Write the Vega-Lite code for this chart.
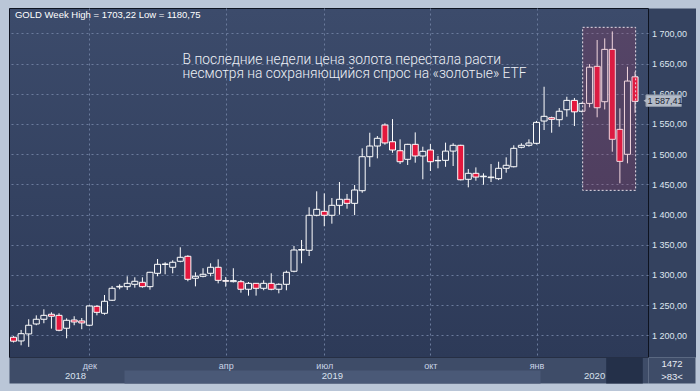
{
  "$schema": "https://vega.github.io/schema/vega-lite/v6.json",
  "width": 639,
  "height": 349,
  "autosize": {"type": "none"},
  "padding": {"left": 9, "top": 8, "right": 52, "bottom": 34},
  "background": "#bac6d7",
  "config": {
    "view": {
      "stroke": "#0e1320",
      "strokeWidth": 1,
      "fill": {"gradient": "linear", "x1": 0, "y1": 0, "x2": 0, "y2": 1, "stops": [{"offset": 0, "color": "#3c4b6b"}, {"offset": 1, "color": "#2d3a58"}]}
    },
    "axis": {"labelOverlap": false, "labelFlush": false, "labelBound": false}
  },
  "data": {"values": [
    {"i": -10, "o": 1196.7, "h": 1198.5, "l": 1188, "c": 1190.2},
    {"i": -9, "o": 1190.6, "h": 1208.8, "l": 1183.4, "c": 1202.6},
    {"i": -8, "o": 1202.2, "h": 1226.5, "l": 1180.75, "c": 1216.6},
    {"i": -7, "o": 1218.7, "h": 1233, "l": 1216.6, "c": 1226.5},
    {"i": -6, "o": 1226.5, "h": 1243, "l": 1219.9, "c": 1233},
    {"i": -5, "o": 1234.8, "h": 1238, "l": 1211, "c": 1231.5},
    {"i": -4, "o": 1233, "h": 1236.4, "l": 1206.6, "c": 1208.3},
    {"i": -3, "o": 1211.6, "h": 1228, "l": 1195, "c": 1224.8},
    {"i": -2, "o": 1225.3, "h": 1231.5, "l": 1216.6, "c": 1222},
    {"i": -1, "o": 1223.7, "h": 1228.6, "l": 1210, "c": 1220.4},
    {"i": 0, "o": 1216.6, "h": 1249.5, "l": 1215, "c": 1248.5},
    {"i": 1, "o": 1248, "h": 1249.7, "l": 1233, "c": 1238},
    {"i": 2, "o": 1236.4, "h": 1266.7, "l": 1234, "c": 1256.3},
    {"i": 3, "o": 1258, "h": 1281.6, "l": 1256.8, "c": 1277.8},
    {"i": 4, "o": 1280, "h": 1284.4, "l": 1276.2, "c": 1281},
    {"i": 5, "o": 1280.5, "h": 1297.7, "l": 1275, "c": 1286},
    {"i": 6, "o": 1284.4, "h": 1296, "l": 1278.8, "c": 1289.4},
    {"i": 7, "o": 1287.7, "h": 1296, "l": 1278.8, "c": 1280.5},
    {"i": 8, "o": 1280.5, "h": 1305, "l": 1275.5, "c": 1304.3},
    {"i": 9, "o": 1302.6, "h": 1326.3, "l": 1297.7, "c": 1317.5},
    {"i": 10, "o": 1317.2, "h": 1320.9, "l": 1301, "c": 1318},
    {"i": 11, "o": 1312.6, "h": 1324.2, "l": 1302.6, "c": 1320.9},
    {"i": 12, "o": 1322.5, "h": 1345.7, "l": 1320.9, "c": 1329.1},
    {"i": 13, "o": 1330.8, "h": 1332.5, "l": 1289.4, "c": 1292.7},
    {"i": 14, "o": 1294.4, "h": 1304.3, "l": 1281, "c": 1297.7},
    {"i": 15, "o": 1297.7, "h": 1311, "l": 1296, "c": 1301},
    {"i": 16, "o": 1302.6, "h": 1319.2, "l": 1297.7, "c": 1312.6},
    {"i": 17, "o": 1312.6, "h": 1325.8, "l": 1286, "c": 1291},
    {"i": 18, "o": 1290.5, "h": 1296.5, "l": 1280.5, "c": 1289.5},
    {"i": 19, "o": 1288.8, "h": 1311, "l": 1287.5, "c": 1290.5},
    {"i": 20, "o": 1288.7, "h": 1291.6, "l": 1270.5, "c": 1276.2},
    {"i": 21, "o": 1276.2, "h": 1288.2, "l": 1265.6, "c": 1286},
    {"i": 22, "o": 1286, "h": 1286.5, "l": 1265.6, "c": 1277.8},
    {"i": 23, "o": 1277.8, "h": 1291, "l": 1274.5, "c": 1286},
    {"i": 24, "o": 1286, "h": 1302.6, "l": 1274.5, "c": 1276.2},
    {"i": 25, "o": 1276.2, "h": 1286, "l": 1269.5, "c": 1284.4},
    {"i": 26, "o": 1284.4, "h": 1307, "l": 1274.5, "c": 1304.3},
    {"i": 27, "o": 1306, "h": 1347.8, "l": 1304.3, "c": 1341.2},
    {"i": 28, "o": 1341, "h": 1357.8, "l": 1319.2, "c": 1342},
    {"i": 29, "o": 1340.7, "h": 1412, "l": 1331.3, "c": 1398.7},
    {"i": 30, "o": 1398.7, "h": 1438.4, "l": 1397, "c": 1408.6},
    {"i": 31, "o": 1405.3, "h": 1435, "l": 1380.5, "c": 1398.7},
    {"i": 32, "o": 1398.7, "h": 1427.3, "l": 1384.8, "c": 1415.2},
    {"i": 33, "o": 1415.2, "h": 1453.8, "l": 1399.7, "c": 1425.2},
    {"i": 34, "o": 1425.2, "h": 1434, "l": 1409.6, "c": 1418.5},
    {"i": 35, "o": 1418.5, "h": 1448.8, "l": 1399, "c": 1440.6},
    {"i": 36, "o": 1439.4, "h": 1509.6, "l": 1436, "c": 1495.7},
    {"i": 37, "o": 1495.7, "h": 1535.4, "l": 1479, "c": 1513.4},
    {"i": 38, "o": 1513.4, "h": 1530, "l": 1493, "c": 1526.2},
    {"i": 39, "o": 1548.2, "h": 1551, "l": 1515.6, "c": 1518.5},
    {"i": 40, "o": 1520.5, "h": 1558, "l": 1502.3, "c": 1506.8},
    {"i": 41, "o": 1505.6, "h": 1524.5, "l": 1483.6, "c": 1487.4},
    {"i": 42, "o": 1491.4, "h": 1517, "l": 1482, "c": 1516.2},
    {"i": 43, "o": 1516.2, "h": 1536, "l": 1485.8, "c": 1496.9},
    {"i": 44, "o": 1496.9, "h": 1512.3, "l": 1458.3, "c": 1504.6},
    {"i": 45, "o": 1506.8, "h": 1516.7, "l": 1472, "c": 1487.4},
    {"i": 46, "o": 1489, "h": 1497, "l": 1476.5, "c": 1489.6},
    {"i": 47, "o": 1489.7, "h": 1519, "l": 1479, "c": 1505},
    {"i": 48, "o": 1505, "h": 1518, "l": 1480.3, "c": 1514.6},
    {"i": 49, "o": 1514.6, "h": 1515.5, "l": 1456.5, "c": 1457.5},
    {"i": 50, "o": 1458.3, "h": 1475.3, "l": 1445, "c": 1468.2},
    {"i": 51, "o": 1468.2, "h": 1478, "l": 1456, "c": 1462},
    {"i": 52, "o": 1462.5, "h": 1468.2, "l": 1449.3, "c": 1463.5},
    {"i": 53, "o": 1461, "h": 1483.6, "l": 1453.8, "c": 1462},
    {"i": 54, "o": 1459.3, "h": 1487.4, "l": 1457, "c": 1476.5},
    {"i": 55, "o": 1476.5, "h": 1494.7, "l": 1469.2, "c": 1481.5},
    {"i": 56, "o": 1479.1, "h": 1514.6, "l": 1478, "c": 1509.6},
    {"i": 57, "o": 1511.3, "h": 1518, "l": 1509.6, "c": 1514.6},
    {"i": 58, "o": 1514.6, "h": 1524.5, "l": 1512.3, "c": 1518.4},
    {"i": 59, "o": 1517.9, "h": 1555, "l": 1516, "c": 1552.6},
    {"i": 60, "o": 1554.8, "h": 1611.6, "l": 1539.9, "c": 1562.6},
    {"i": 61, "o": 1560.3, "h": 1562, "l": 1535.4, "c": 1557.6},
    {"i": 62, "o": 1557, "h": 1576.3, "l": 1545.4, "c": 1571},
    {"i": 63, "o": 1573.5, "h": 1595, "l": 1562, "c": 1589},
    {"i": 64, "o": 1589, "h": 1593, "l": 1546.5, "c": 1570},
    {"i": 65, "o": 1571, "h": 1585.5, "l": 1569, "c": 1584},
    {"i": 66, "o": 1584, "h": 1649, "l": 1577.5, "c": 1644},
    {"i": 67, "o": 1645.4, "h": 1689, "l": 1561, "c": 1576.8},
    {"i": 68, "o": 1586.8, "h": 1691.7, "l": 1574, "c": 1673.5},
    {"i": 69, "o": 1673.5, "h": 1703.22, "l": 1504, "c": 1524.5},
    {"i": 70, "o": 1541, "h": 1575.8, "l": 1451.7, "c": 1488},
    {"i": 71, "o": 1499.7, "h": 1644.7, "l": 1484.8, "c": 1621},
    {"i": 72, "o": 1628, "h": 1636.4, "l": 1568.5, "c": 1587.41}
  ]},
  "layer": [
    {
      "mark": {"type": "rule", "color": "#ffffff", "strokeWidth": 1},
      "encoding": {
        "x": {
          "field": "i", "type": "quantitative",
          "scale": {"domain": [-9.94, 73.05], "nice": false, "zero": false},
          "axis": {
            "orient": "bottom", "title": null, "values": [0, 18, 31, 45, 59],
            "offset": 13, "domain": true, "domainWidth": 26, "domainColor": "#3e4c68", "domainCap": "butt",
            "ticks": false, "labels": false, "grid": true, "gridColor": "#6b7b9c", "gridDash": [2, 3], "gridWidth": 1
          }
        },
        "y": {
          "field": "l", "type": "quantitative",
          "scale": {"domain": [1164, 1742], "nice": false, "zero": false},
          "axis": {
            "orient": "right", "title": null, "values": [1200, 1250, 1300, 1350, 1400, 1450, 1500, 1550, 1600, 1650, 1700],
            "offset": 24, "domain": true, "domainWidth": 47, "domainColor": "#34425f", "domainCap": "butt",
            "ticks": false, "labels": false, "grid": true, "gridColor": "#6b7b9c", "gridDash": [2, 3], "gridWidth": 1
          }
        },
        "y2": {"field": "h"}
      }
    },
    {
      "mark": {"type": "bar", "size": 6, "stroke": "#ffffff", "strokeWidth": 1},
      "encoding": {
        "x": {
          "field": "i", "type": "quantitative",
          "axis": {
            "orient": "bottom", "title": null, "values": [-1.89, 32.0, 66.6],
            "offset": 13, "domain": false, "grid": false, "ticks": true, "tickSize": 13, "tickCap": "butt",
            "tickWidth": 416, "tickColor": "#4a5977",
            "tickOpacity": {"condition": {"test": "datum.value > 30 && datum.value < 35", "value": 1}, "value": 0},
            "labelExpr": "datum.value < 0 ? '2018' : datum.value < 50 ? '2019' : '2020'",
            "labelFont": "Liberation Sans", "labelFontSize": 9.5, "labelColor": "#d9e1ee",
            "labelBaseline": "middle", "labelPadding": -7.3, "labelAlign": "center"
          }
        },
        "y": {
          "field": "o", "type": "quantitative",
          "axis": {
            "orient": "right", "title": null, "values": [1200, 1250, 1300, 1350, 1400, 1450, 1500, 1550, 1600, 1650, 1700],
            "offset": 0, "domain": false, "ticks": false, "grid": false,
            "labelExpr": "replace(replace(format(datum.value, ',.2f'), ',', ' '), '.', ',')",
            "labelFont": "Liberation Sans", "labelFontSize": 9, "labelColor": "#dfe6f0",
            "labelBaseline": "middle", "labelAlign": "left", "labelPadding": 3.5
          }
        },
        "y2": {"field": "c"},
        "fill": {
          "condition": {"test": "datum.c < datum.o", "value": "#e4173d"},
          "field": "c", "type": "quantitative",
          "scale": {"type": "linear", "domain": [1164, 1742], "range": ["#2d3a58", "#3c4b6b"]},
          "legend": null
        }
      }
    },
    {
      "data": {"values": [{}]},
      "mark": {"type": "rect", "fill": "#c0305c", "fillOpacity": 0.2, "stroke": "#e9e1ea", "strokeWidth": 1, "strokeDash": [2, 2]},
      "encoding": {
        "x": {
          "datum": 65.09, "type": "quantitative",
          "axis": {
            "orient": "bottom", "title": null, "values": [70.58],
            "offset": 0, "domain": false, "grid": false, "labels": false, "ticks": true, "tickSize": 26, "tickCap": "butt",
            "tickWidth": 36.6, "tickColor": "#243049"
          }
        },
        "x2": {"datum": 72.08},
        "y": {
          "datum": 1710, "type": "quantitative",
          "axis": {
            "orient": "right", "title": null, "values": [1165],
            "offset": 0, "domain": false, "grid": false, "ticks": true, "tickSize": 47, "tickCap": "butt",
            "tickWidth": 26, "tickColor": "#3e4c68", "tickOffset": 13.6,
            "labelExpr": "['1472', '>83<']",
            "labelFont": "Liberation Sans", "labelFontSize": 9.5, "labelColor": "#e8edf5",
            "labelBaseline": "middle", "labelLineHeight": 13, "labelPadding": -23.5, "labelAlign": "center",
            "labelOffset": -6.5
          }
        },
        "y2": {"datum": 1440}
      }
    },
    {
      "data": {"values": [{}]},
      "mark": {
        "type": "text",
        "text": ["В последние недели цена золота перестала расти", "несмотря на сохраняющийся спрос на «золотые» ETF"],
        "align": "left", "baseline": "alphabetic", "font": "Roboto", "fontWeight": 300,
        "fontSize": 13.8, "lineHeight": 14.4, "color": "#eef1f7"
      },
      "encoding": {
        "x": {
          "datum": 12.3, "type": "quantitative",
          "axis": {
            "orient": "bottom", "title": null, "values": [0, 18, 31, 45, 59],
            "offset": 13, "domain": false, "grid": false, "ticks": false,
            "labelExpr": "datum.value == 0 ? 'дек' : datum.value == 18 ? 'апр' : datum.value == 31 ? 'июл' : datum.value == 45 ? 'окт' : 'янв'",
            "labelFont": "Liberation Sans", "labelFontSize": 9, "labelColor": "#c9d3e6",
            "labelBaseline": "middle", "labelPadding": -5, "labelAlign": "center"
          }
        },
        "y": {"datum": 1650, "type": "quantitative", "axis": null}
      }
    },
    {
      "data": {"values": [{}]},
      "mark": {"type": "text", "text": "GOLD Week High = 1703,22 Low = 1180,75", "align": "left", "baseline": "alphabetic", "font": "Liberation Sans", "fontSize": 9.5, "color": "#ffffff"},
      "encoding": {
        "x": {"datum": -9.81, "type": "quantitative", "axis": null},
        "y": {"datum": 1724.8, "type": "quantitative", "axis": null}
      }
    },
    {
      "data": {"values": [{}]},
      "mark": {"type": "rect", "fill": "#b2bac7", "stroke": "#8d96a6", "strokeWidth": 1},
      "encoding": {
        "x": {"datum": 73.44, "type": "quantitative", "axis": null},
        "x2": {"datum": 78.1},
        "y": {"datum": 1598, "type": "quantitative", "axis": null},
        "y2": {"datum": 1579}
      }
    },
    {
      "data": {"values": [{}]},
      "mark": {"type": "point", "shape": "triangle-left", "filled": true, "fill": "#b2bac7", "size": 45, "opacity": 1},
      "encoding": {
        "x": {"datum": 73.5, "type": "quantitative", "axis": null},
        "y": {"datum": 1588.5, "type": "quantitative", "axis": null}
      }
    },
    {
      "data": {"values": [{}]},
      "mark": {"type": "text", "text": "1 587,41", "align": "left", "baseline": "middle", "font": "Liberation Sans", "fontSize": 9, "color": "#1b2233"},
      "encoding": {
        "x": {"datum": 73.65, "type": "quantitative", "axis": null},
        "y": {"datum": 1588.5, "type": "quantitative", "axis": null}
      }
    }
  ],
  "resolve": {"axis": {"x": "independent", "y": "independent"}}
}
